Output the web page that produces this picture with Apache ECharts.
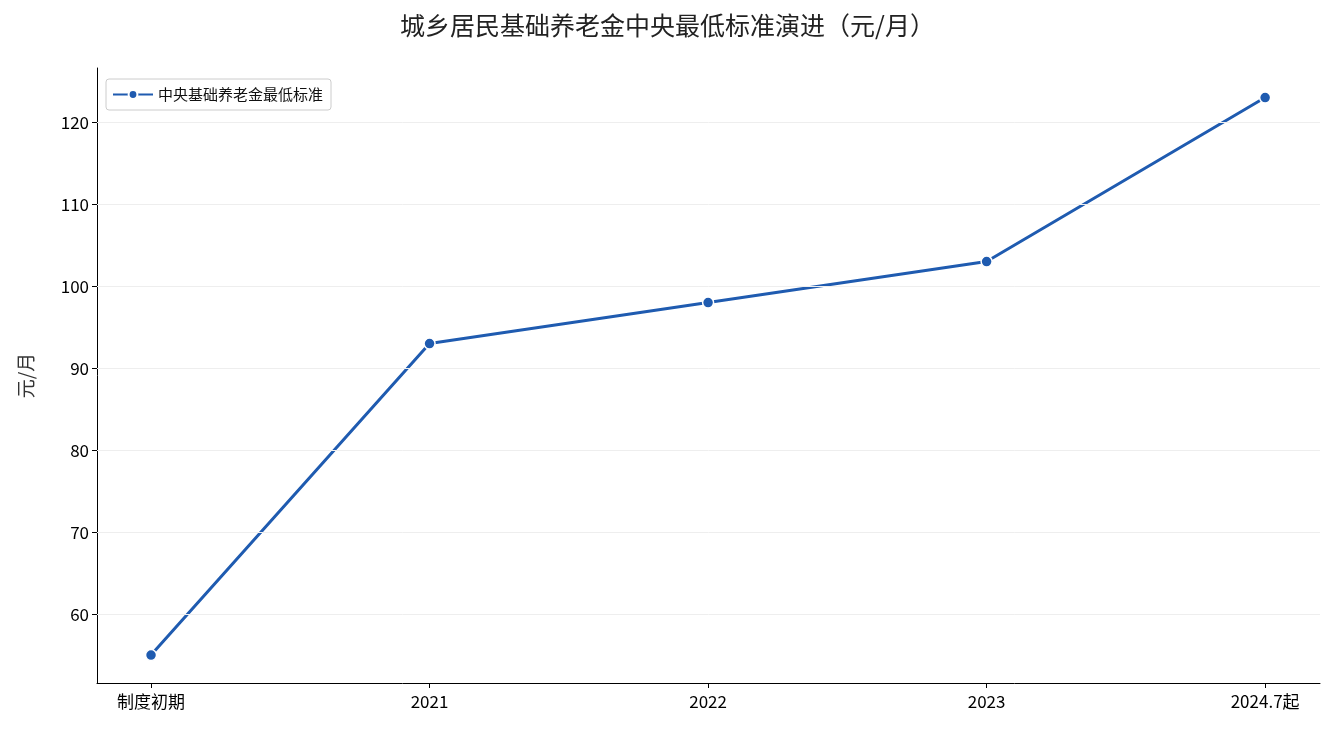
<!DOCTYPE html><html><head><meta charset="utf-8"><script src="https://cdn.jsdelivr.net/npm/echarts@6/dist/echarts.min.js"></script></head><body style="margin:0"><div id="c" style="width:1335px;height:735px"></div><script>
const categories=['制度初期','2021','2022','2023','2024.7起'];
const values=[55,93,98,103,123];
const yTicks=[60,70,80,90,100,110,120];
const xIdx=categories.map((c,i)=>i);
const F='"Noto Sans CJK SC"';
const ch=echarts.init(document.getElementById('c'));
ch.setOption({
title:{text:'城乡居民基础养老金中央最低标准演进（元/月）',left:'center',top:8,textStyle:{fontFamily:F,fontSize:25,fontWeight:'normal',color:'#222'}},
legend:{left:106,top:79,borderColor:'#ccc',borderWidth:1,borderRadius:3,padding:[8,8,8,6],itemWidth:40,itemHeight:11,textStyle:{fontFamily:F,fontSize:15,color:'#111'},data:['中央基础养老金最低标准']},
grid:{left:97,right:15,top:68,bottom:52},
xAxis:{type:'value',min:-0.194,max:4.197,splitLine:{show:false},axisLine:{onZero:false,lineStyle:{color:'#000'}},
axisTick:{customValues:xIdx,lineStyle:{color:'#000'}},
axisLabel:{customValues:xIdx,fontFamily:F,fontSize:17,color:'#000',margin:10,formatter:v=>categories[Math.round(v)]}},
yAxis:{type:'value',min:51.6,max:126.6,name:'元/月',nameLocation:'middle',nameGap:62,nameTextStyle:{fontFamily:F,fontSize:19,color:'#333'},
axisLine:{show:true,onZero:false,lineStyle:{color:'#000'}},axisTick:{show:true,customValues:yTicks,lineStyle:{color:'#000'}},splitLine:{show:false},
axisLabel:{customValues:yTicks,fontFamily:F,fontSize:17,color:'#000'}},
series:[{name:'中央基础养老金最低标准',type:'line',data:values.map((v,i)=>[i,v]),symbol:'circle',symbolSize:11,lineStyle:{color:'#1f5bb0',width:3},itemStyle:{color:'#1f5bb0',borderColor:'#fff',borderWidth:1.5},
markLine:{silent:true,symbol:'none',label:{show:false},lineStyle:{color:'#eee',width:1,type:'solid'},data:yTicks.map(y=>({yAxis:y}))}}]
});
</script></body></html>
